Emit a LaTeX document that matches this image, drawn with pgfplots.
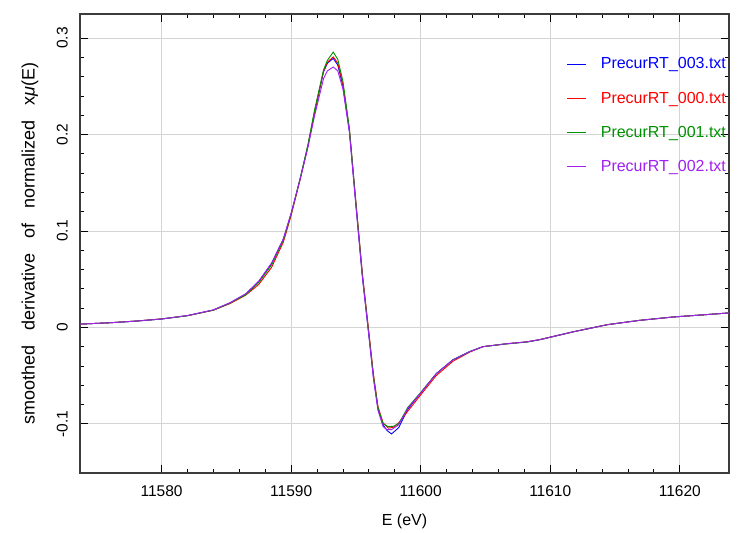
\documentclass[border=0pt]{standalone}
\usepackage{pgfplots}
\pgfplotsset{compat=1.18}
\usepackage{fontspec}
\setmainfont{Liberation Sans}
\usetikzlibrary{calc}
\definecolor{cblue}{RGB}{0,0,255}
\definecolor{cred}{RGB}{255,0,0}
\definecolor{cgreen}{RGB}{0,145,0}
\definecolor{cpurple}{RGB}{160,32,240}
\definecolor{gridc}{RGB}{212,212,212}
\definecolor{framec}{RGB}{60,60,60}
\begin{document}
\begin{tikzpicture}
\begin{axis}[
  name=ax,
  scale only axis,
  width=649bp, height=459bp,
  xmin=11573.7, xmax=11623.8,
  ymin=-0.151, ymax=0.325,
  xtick={11580,11590,11600,11610,11620},
  ytick={-0.1,0,0.1,0.2,0.3},
  scaled x ticks=false,
  scaled y ticks=false,
  minor x tick num=4,
  minor y tick num=4,
  major tick length=8bp,
  minor tick length=4bp,
  tick style={black, line width=0.8pt},
  axis line style={framec, line width=1.2pt},
  grid=major,
  major grid style={gridc, line width=0.9pt},
  /pgf/number format/assume math mode=true,
  /pgf/number format/set thousands separator={},
  /pgf/number format/fixed,
  tick label style={font=\fontsize{15.5bp}{18bp}\selectfont},
  yticklabel style={rotate=90, anchor=south, inner sep=0pt},
  yticklabel shift=12bp,
  xticklabel style={inner sep=0pt, anchor=north},
  xticklabel shift=12bp,
  legend style={at={(axis description cs:0.750,0.905)}, anchor=north west,
    draw=none, fill=none, inner sep=0pt, row sep=21.5bp,
    font=\fontsize{16bp}{19bp}\selectfont,
    nodes={inner sep=0pt}},
  legend cell align=left,
  legend image code/.code={\draw[#1] (0bp,0bp) -- (19bp,0bp);},
  /tikz/every odd column/.append style={column sep=14bp},
]
\addplot[cblue, line width=0.9pt] coordinates {
(11573.7,0.0034) (11576,0.0048) (11578,0.0065) (11580,0.0087) (11582,0.0122)
(11584,0.0180) (11585.3,0.0255) (11586.5,0.0345) (11587.5,0.0475) (11588.5,0.0665)
(11589.4,0.0915) (11590,0.1180) (11590.7,0.1540) (11591.3,0.1880) (11591.8,0.2220)
(11592.5,0.2650) (11592.8,0.2740) (11593.25,0.2790) (11593.6,0.2720) (11594.0,0.2500)
(11594.5,0.2030) (11595.0,0.1270) (11595.5,0.0530) (11596.0,-0.0080) (11596.35,-0.0510)
(11596.7,-0.0840) (11597.1,-0.1010) (11597.4,-0.1070) (11597.75,-0.1105) (11598.3,-0.1040)
(11599.0,-0.0850) (11600.0,-0.0680) (11601.2,-0.0480) (11602.5,-0.0335) (11603.8,-0.0250)
(11604.8,-0.0200) (11606.6,-0.0170) (11608.2,-0.0150) (11609.2,-0.0127) (11611.8,-0.0045) (11614.4,0.0028)
(11616.9,0.0073) (11619.5,0.0108) (11622.0,0.0132) (11623.8,0.0150)
};
\addlegendentry{\textcolor{cblue}{PrecurRT\_003.txt}}
\addplot[cred, line width=0.9pt] coordinates {
(11573.7,0.0034) (11576,0.0048) (11578,0.0066) (11580,0.0088) (11582,0.0122)
(11584,0.0178) (11585.3,0.0248) (11586.5,0.0335) (11587.5,0.0445) (11588.5,0.0625)
(11589.4,0.0885) (11590,0.1160) (11590.7,0.1540) (11591.3,0.1890) (11591.8,0.2230)
(11592.5,0.2660) (11592.8,0.2750) (11593.25,0.2805) (11593.6,0.2740) (11594.0,0.2520)
(11594.5,0.2050) (11595.0,0.1300) (11595.5,0.0560) (11596.0,-0.0050) (11596.35,-0.0480)
(11596.7,-0.0820) (11597.1,-0.0990) (11597.5,-0.1045) (11597.9,-0.1035) (11598.3,-0.0990)
(11599.0,-0.0870) (11600.0,-0.0700) (11601.2,-0.0500) (11602.5,-0.0350) (11603.8,-0.0255)
(11604.8,-0.0200) (11606.6,-0.0170) (11608.2,-0.0150) (11609.2,-0.0127) (11611.8,-0.0045) (11614.4,0.0028)
(11616.9,0.0073) (11619.5,0.0108) (11622.0,0.0132) (11623.8,0.0150)
};
\addlegendentry{\textcolor{cred}{PrecurRT\_000.txt}}
\addplot[cgreen, line width=0.9pt] coordinates {
(11573.7,0.0034) (11576,0.0048) (11578,0.0065) (11580,0.0087) (11582,0.0121)
(11584,0.0179) (11585.3,0.0252) (11586.5,0.0340) (11587.5,0.0465) (11588.5,0.0650)
(11589.4,0.0905) (11590,0.1175) (11590.7,0.1550) (11591.3,0.1900) (11591.8,0.2250)
(11592.5,0.2670) (11592.8,0.2770) (11593.25,0.2855) (11593.6,0.2780) (11594.0,0.2550)
(11594.5,0.2060) (11595.0,0.1290) (11595.5,0.0540) (11596.0,-0.0070) (11596.35,-0.0500)
(11596.7,-0.0830) (11597.1,-0.1000) (11597.5,-0.1030) (11597.9,-0.1025) (11598.3,-0.1000)
(11599.0,-0.0830) (11600.0,-0.0675) (11601.2,-0.0480) (11602.5,-0.0335) (11603.8,-0.0250)
(11604.8,-0.0200) (11606.6,-0.0172) (11608.2,-0.0152) (11609.2,-0.0127) (11611.8,-0.0045) (11614.4,0.0028)
(11616.9,0.0073) (11619.5,0.0108) (11622.0,0.0132) (11623.8,0.0150)
};
\addlegendentry{\textcolor{cgreen}{PrecurRT\_001.txt}}
\addplot[cpurple, line width=0.9pt] coordinates {
(11573.7,0.0034) (11576,0.0048) (11578,0.0065) (11580,0.0087) (11582,0.0123)
(11584,0.0182) (11585.3,0.0258) (11586.5,0.0350) (11587.5,0.0480) (11588.5,0.0670)
(11589.4,0.0920) (11590,0.1185) (11590.7,0.1540) (11591.3,0.1870) (11591.8,0.2190)
(11592.5,0.2580) (11592.8,0.2660) (11593.25,0.2700) (11593.6,0.2660) (11594.0,0.2470)
(11594.5,0.2020) (11595.0,0.1260) (11595.5,0.0520) (11596.0,-0.0090) (11596.35,-0.0530)
(11596.7,-0.0860) (11597.1,-0.1030) (11597.4,-0.1060) (11597.75,-0.1060) (11598.3,-0.1010)
(11599.0,-0.0840) (11600.0,-0.0680) (11601.2,-0.0480) (11602.5,-0.0335) (11603.8,-0.0250)
(11604.8,-0.0200) (11606.6,-0.0170) (11608.2,-0.0150) (11609.2,-0.0127) (11611.8,-0.0045) (11614.4,0.0028)
(11616.9,0.0073) (11619.5,0.0108) (11622.0,0.0132) (11623.8,0.0150)
};
\addlegendentry{\textcolor{cpurple}{PrecurRT\_002.txt}}
\end{axis}
\node[rotate=90, font=\fontsize{18bp}{21bp}\selectfont] at ($(ax.west)+(-50bp,0bp)$) {smoothed\hspace{15bp}derivative\hspace{15bp}of\hspace{15bp}normalized\hspace{15bp}x\textit{μ}(E)};
\node[font=\fontsize{16bp}{19bp}\selectfont] at ($(ax.south)+(0,-48bp)$) {E (eV)};
\pgfresetboundingbox
\path ($(ax.south west)+(-80bp,-60bp)$) rectangle ($(ax.north east)+(9bp,14bp)$);
\end{tikzpicture}
\end{document}
